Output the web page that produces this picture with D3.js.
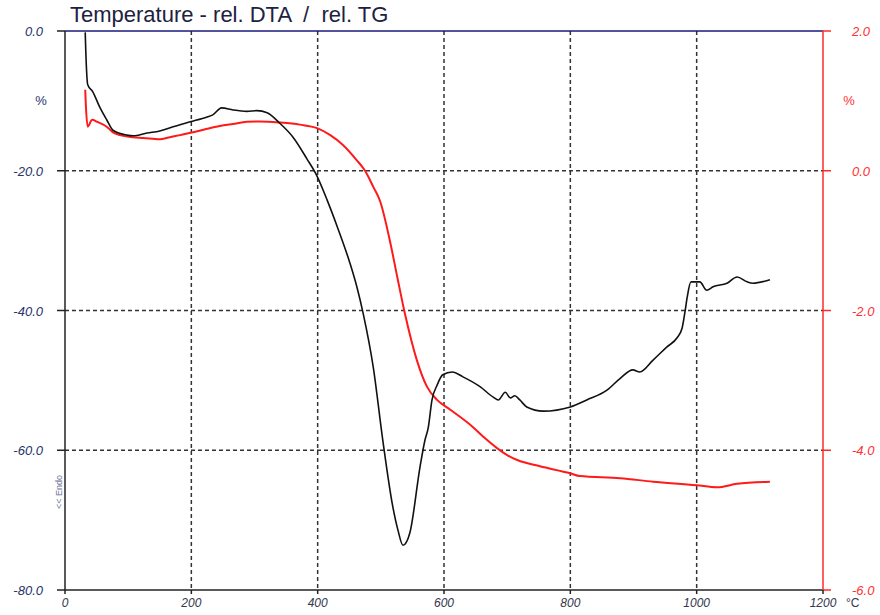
<!DOCTYPE html>
<html>
<head>
<meta charset="utf-8">
<script src="https://cdn.jsdelivr.net/npm/d3@7"></script>
<style>
  body { margin: 0; background: #fff; }
  svg text { font-family: "Liberation Sans", Arial, sans-serif; white-space: pre; }
</style>
</head>
<body>
<div id="chart"></div>
<script>
var dtaTemp = [32, 33, 36, 44, 55, 66, 76, 98, 108, 130, 150, 171, 198, 225, 234, 248, 266, 288, 304, 320, 340, 361, 383, 398, 415, 431, 451, 462, 472, 488, 503, 519, 527, 535, 546, 562, 570, 575, 581, 589, 598, 613, 630, 657, 678, 686, 697, 705, 712, 720, 731, 757, 800, 826, 858, 879, 899, 910, 931, 953, 969, 977, 982, 985, 991, 1005, 1016, 1026, 1048, 1064, 1080, 1089, 1116];
var dtaValue = [-0.2, -3.1, -7.7, -8.7, -10.9, -12.7, -14.2, -14.9, -15.0, -14.6, -14.3, -13.7, -13.0, -12.3, -12.0, -11.0, -11.3, -11.5, -11.4, -11.7, -13.2, -15.2, -18.3, -20.6, -24.2, -28.0, -33.2, -36.6, -40.4, -48.1, -58.5, -68.1, -71.4, -73.6, -71.8, -62.4, -58.5, -56.8, -52.8, -50.7, -49.2, -48.8, -49.5, -50.9, -52.4, -52.8, -51.7, -52.5, -52.2, -52.8, -53.8, -54.4, -53.8, -52.8, -51.4, -49.7, -48.5, -48.8, -47.1, -45.2, -43.9, -42.5, -39.9, -38.1, -35.9, -35.9, -37.1, -36.6, -36.1, -35.2, -35.9, -36.1, -35.6];

var tgTemp = [32, 33, 36, 43, 51, 66, 76, 87, 108, 124, 150, 166, 182, 203, 225, 245, 266, 288, 309, 340, 372, 399, 420, 440, 462, 475, 488, 499, 515, 526, 538, 557, 573, 589, 610, 646, 665, 684, 700, 716, 752, 800, 815, 879, 931, 1000, 1032, 1064, 1116];
var tgValue = [1.16, 0.94, 0.63, 0.73, 0.70, 0.63, 0.55, 0.51, 0.48, 0.47, 0.45, 0.48, 0.51, 0.55, 0.60, 0.64, 0.67, 0.70, 0.705, 0.69, 0.66, 0.61, 0.51, 0.37, 0.15, 0.0, -0.23, -0.44, -1.03, -1.52, -2.04, -2.71, -3.09, -3.28, -3.42, -3.67, -3.83, -3.97, -4.07, -4.14, -4.23, -4.33, -4.37, -4.40, -4.45, -4.50, -4.53, -4.48, -4.45];

var xTicks = [0, 200, 400, 600, 800, 1000, 1200];
var leftTicks = [0, -20, -40, -60, -80];
var rightTicks = [2, 0, -2, -4, -6];

var width = 880, height = 615;
var plotLeft = 65, plotRight = 823, plotTop = 31, plotBottom = 590;

var svg = d3.select("#chart").append("svg").attr("width", width).attr("height", height);

var x = d3.scaleLinear().domain([0, 1200]).range([plotLeft, plotRight]);
var yL = d3.scaleLinear().domain([-80, 0]).range([plotBottom, plotTop]);
var yR = d3.scaleLinear().domain([-6, 2]).range([plotBottom, plotTop]);

// grid
var grid = svg.append("g").attr("stroke", "#333").attr("stroke-width", 1.5).attr("stroke-dasharray", "4,3");
grid.selectAll(".gx").data(xTicks.slice(1, -1)).enter().append("line")
  .attr("x1", function(d) { return x(d); }).attr("x2", function(d) { return x(d); })
  .attr("y1", plotTop).attr("y2", plotBottom);
grid.selectAll(".gy").data(leftTicks.slice(1, -1)).enter().append("line")
  .attr("y1", function(d) { return yL(d); }).attr("y2", function(d) { return yL(d); })
  .attr("x1", plotLeft).attr("x2", plotRight);

// frame
svg.append("line").attr("x1", plotLeft).attr("x2", plotRight).attr("y1", plotTop).attr("y2", plotTop).attr("stroke", "#1a1a7a").attr("stroke-width", 1.5);
svg.append("line").attr("x1", plotLeft).attr("x2", plotRight).attr("y1", plotBottom).attr("y2", plotBottom).attr("stroke", "#222").attr("stroke-width", 1.5);
svg.append("line").attr("x1", plotLeft).attr("x2", plotLeft).attr("y1", plotTop).attr("y2", plotBottom).attr("stroke", "#222").attr("stroke-width", 1.5);
svg.append("line").attr("x1", plotRight).attr("x2", plotRight).attr("y1", plotTop).attr("y2", plotBottom).attr("stroke", "#ff2a2a").attr("stroke-width", 1.5);

// ticks
svg.selectAll(".tl").data(leftTicks).enter().append("line")
  .attr("x1", plotLeft - 8).attr("x2", plotLeft)
  .attr("y1", function(d) { return yL(d); }).attr("y2", function(d) { return yL(d); })
  .attr("stroke", "#222").attr("stroke-width", 1.5);
svg.selectAll(".tr").data(rightTicks).enter().append("line")
  .attr("x1", plotRight).attr("x2", plotRight + 8)
  .attr("y1", function(d) { return yR(d); }).attr("y2", function(d) { return yR(d); })
  .attr("stroke", "#ff2a2a").attr("stroke-width", 1.5);
svg.selectAll(".tb").data(xTicks).enter().append("line")
  .attr("x1", function(d) { return x(d); }).attr("x2", function(d) { return x(d); })
  .attr("y1", plotBottom).attr("y2", plotBottom + 4)
  .attr("stroke", "#222").attr("stroke-width", 1.5);

// tick labels
svg.selectAll(".ll").data(leftTicks).enter().append("text")
  .attr("x", 43).attr("y", function(d) { return yL(d) + 5; })
  .attr("text-anchor", "end").attr("font-size", 13).attr("font-style", "italic").attr("fill", "#28336a")
  .text(function(d) { return d.toFixed(1); });
svg.selectAll(".rl").data(rightTicks).enter().append("text")
  .attr("x", 852).attr("y", function(d) { return yR(d) + 5; })
  .attr("font-size", 13).attr("font-style", "italic").attr("fill", "#ff3030")
  .text(function(d) { return d.toFixed(1); });
svg.selectAll(".bl").data(xTicks).enter().append("text")
  .attr("x", function(d) { return x(d); }).attr("y", 607)
  .attr("text-anchor", "middle").attr("font-size", 12).attr("font-style", "italic").attr("fill", "#33384d")
  .text(function(d) { return d; });
svg.append("text").attr("x", 846).attr("y", 607).attr("font-size", 12).attr("fill", "#33384d").text("°C");

svg.append("text").attr("x", 41).attr("y", 105).attr("text-anchor", "middle").attr("font-size", 13).attr("fill", "#28336a").text("%");
svg.append("text").attr("x", 849).attr("y", 105).attr("text-anchor", "middle").attr("font-size", 13).attr("fill", "#ff3030").text("%");

svg.append("text").attr("transform", "translate(62,492) rotate(-90)")
  .attr("text-anchor", "middle").attr("font-size", 9).attr("fill", "#6a7396").text("<< Endo");

svg.append("text").attr("x", 70).attr("y", 22).attr("font-size", 22).attr("fill", "#1c2340")
  .text("Temperature - rel. DTA  /  rel. TG");

// curves
var dta = d3.line().x(function(d, i) { return x(dtaTemp[i]); }).y(function(d) { return yL(d); }).curve(d3.curveMonotoneX);
var tg = d3.line().x(function(d, i) { return x(tgTemp[i]); }).y(function(d) { return yR(d); }).curve(d3.curveMonotoneX);

svg.append("path").datum(tgValue).attr("d", tg).attr("fill", "none").attr("stroke", "#ff1a1a").attr("stroke-width", 2);
svg.append("path").datum(dtaValue).attr("d", dta).attr("fill", "none").attr("stroke", "#111").attr("stroke-width", 1.6);
</script>
</body>
</html>
